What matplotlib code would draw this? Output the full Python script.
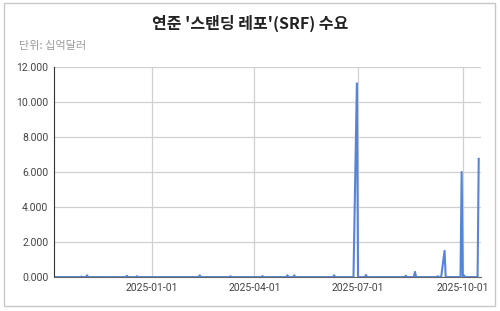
import matplotlib.pyplot as plt
import matplotlib.dates as mdates
import matplotlib.ticker as mticker
import pandas as pd
from matplotlib.patches import Rectangle

# SRF 일별 이용액 (십억달러), 그림에서 읽은 값
dates = [
    "2024-10-07", "2024-10-30", "2024-10-31", "2024-11-01",
    "2024-11-04", "2024-11-05", "2024-11-06",
    "2024-12-09", "2024-12-10", "2024-12-11",
    "2024-12-18", "2024-12-19", "2024-12-20",
    "2025-02-11", "2025-02-12", "2025-02-13",
    "2025-03-10", "2025-03-11", "2025-03-12",
    "2025-04-07", "2025-04-08", "2025-04-09",
    "2025-04-29", "2025-04-30", "2025-05-01",
    "2025-05-05", "2025-05-06", "2025-05-07",
    "2025-06-09", "2025-06-10", "2025-06-11",
    "2025-06-27", "2025-06-30", "2025-07-01",
    "2025-07-07", "2025-07-08", "2025-07-09",
    "2025-08-11", "2025-08-12", "2025-08-13",
    "2025-08-19", "2025-08-20", "2025-08-21",
    "2025-09-08", "2025-09-09", "2025-09-10",
    "2025-09-12", "2025-09-15", "2025-09-16",
    "2025-09-29", "2025-09-30", "2025-10-01", "2025-10-02", "2025-10-03",
    "2025-10-14", "2025-10-15",
]
values = [
    0, 0, 0.03, 0,
    0, 0.10, 0,
    0, 0.08, 0,
    0, 0.05, 0,
    0, 0.10, 0,
    0, 0.05, 0,
    0, 0.06, 0,
    0, 0.10, 0,
    0, 0.10, 0,
    0, 0.10, 0,
    0, 11.06, 0,
    0, 0.12, 0,
    0, 0.08, 0,
    0, 0.30, 0,
    0, 0.05, 0,
    0, 1.50, 0,
    0, 6.00, 0.05, 0.10, 0,
    0, 6.75,
]
xticks = ["2025-01-01", "2025-04-01", "2025-07-01", "2025-10-01"]
title = "연준 '스탠딩 레포'(SRF) 수요"
unit = "단위: 십억달러"

plt.rcParams['font.family'] = ['Roboto', 'Noto Sans CJK KR', 'DejaVu Sans']

fig = plt.figure(figsize=(5, 3.11), dpi=100)
fig.patches.append(Rectangle((0.008, 0.016), 0.982, 0.974, transform=fig.transFigure,
                             fill=False, edgecolor='#c8c8c8', linewidth=1))

ax = fig.add_axes([0.108, 0.109, 0.854, 0.676])
ax.plot(pd.to_datetime(dates), values, color='#5585d8', linewidth=1.5)

ax.set_xlim(pd.Timestamp("2024-10-07"), pd.Timestamp("2025-10-17"))
ax.set_ylim(0, 12)
ax.yaxis.set_major_locator(mticker.MultipleLocator(2))
ax.yaxis.set_major_formatter(mticker.FuncFormatter(lambda v, p: f"{v:.3f}"))
ax.set_xticks(pd.to_datetime(xticks))
ax.xaxis.set_major_formatter(mdates.DateFormatter("%Y-%m-%d"))

ax.grid(True, color='#d0d0d0', linewidth=0.9)
ax.set_axisbelow(True)
ax.tick_params(length=0, labelsize=7.5, colors='#444444', pad=4)
for s in ['top', 'right']:
    ax.spines[s].set_visible(False)
ax.spines['left'].set_color('#333333')
ax.spines['bottom'].set_color('#666666')

fig.text(0.5, 0.925, title, ha='center', va='center', fontsize=11.5, fontweight='bold',
         family=['Noto Sans CJK KR', 'DejaVu Sans'], color='#222222')
fig.text(0.038, 0.853, unit, ha='left', va='center', fontsize=8,
         family=['Noto Sans CJK KR', 'DejaVu Sans'], color='#9a9a9a')

fig.savefig("out.png", dpi=100)
